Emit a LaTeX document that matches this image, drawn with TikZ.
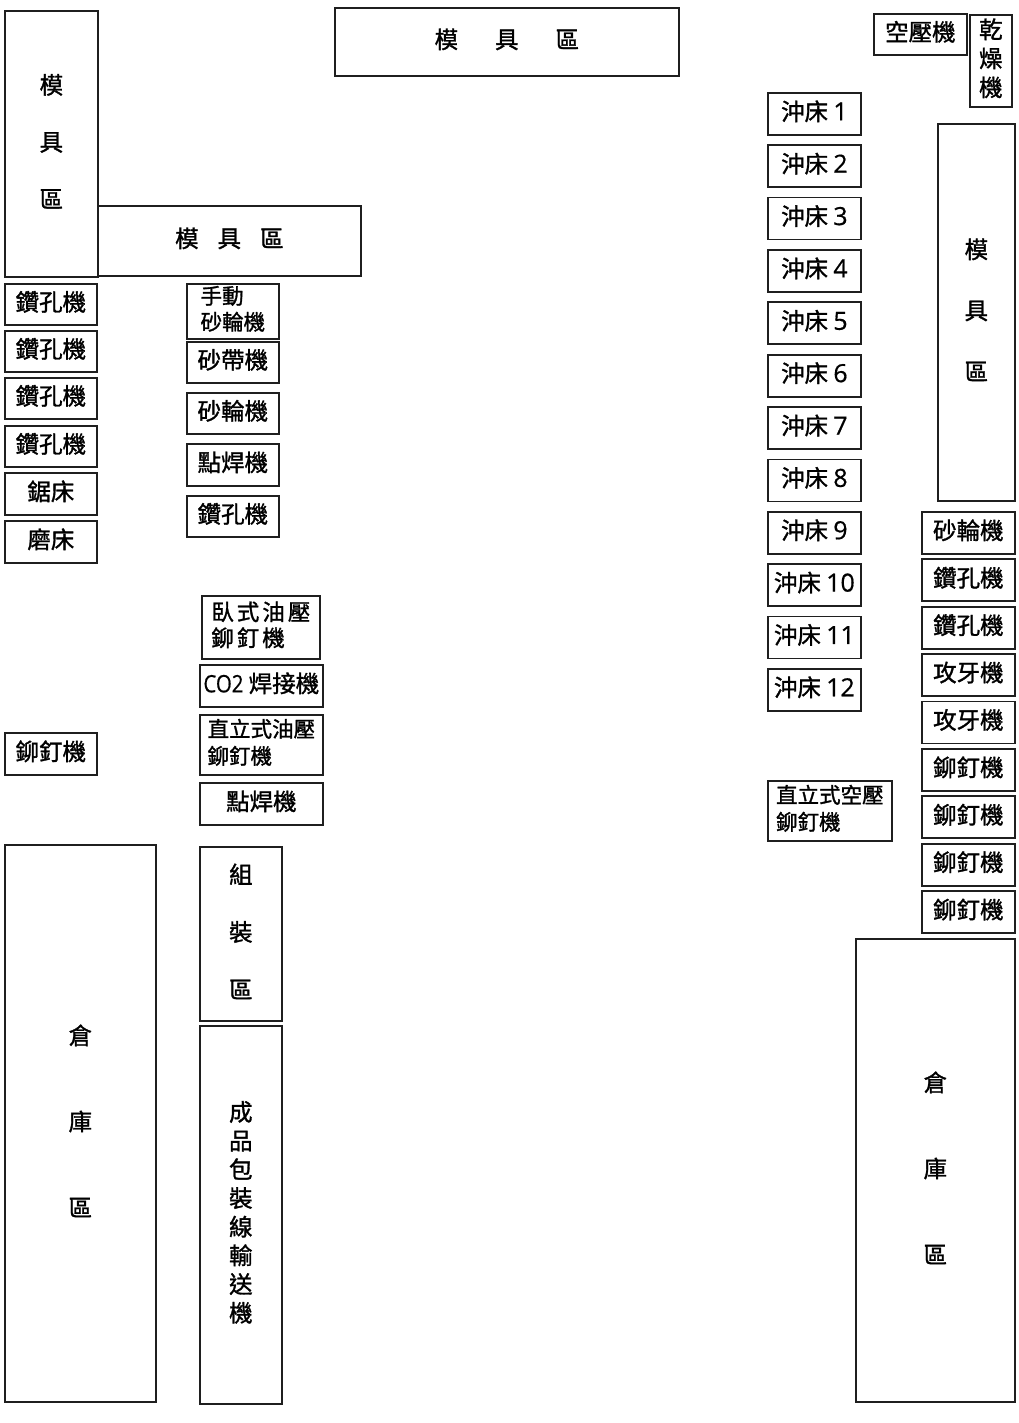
\documentclass[tikz,border=0pt]{standalone}
\usepackage{fontspec}
\newfontfamily\cjk[FakeBold=1.3]{Noto Sans CJK TC}
\newfontfamily\latfont[FakeBold=0.6]{Open Sans}
\newfontfamily\latnarrow[FakeBold=0.6,FakeStretch=0.85]{Open Sans}
\newcommand\latn[1]{{\latfont\fontsize{25}{26}\selectfont #1}}
\newcommand\latc[1]{{\latnarrow\fontsize{24}{26}\selectfont #1}}
\newcommand\bx[7][]{\node[box, minimum width=#5pt, minimum height=#6pt,
  label={[lab,#1]center:{#7}}] (#2) at (#3,#4) {};}
\newcommand\chgap{\hspace{3pt}}
\begin{document}
\begin{tikzpicture}[x=1pt,y=-1pt,
  box/.style={draw=black!88, line width=1.7pt, anchor=north west, inner sep=0pt},
  lab/.style={font=\cjk\fontsize{23.5}{26}\selectfont, align=center, inner sep=0pt, yshift=2.5pt},
  lft/.style={align=left},
  small/.style={font=\cjk\fontsize{21.5}{#1}\selectfont},
  vtext/.style={font=\cjk\fontsize{23.5}{#1}\selectfont}]
\useasboundingbox (0,0) rectangle (1018,1423);
% ---- left molds
\bx[vtext=57]{moldA}{4}{10}{93}{266}{模\\具\\區}
\bx{moldB}{97}{205}{263}{70}{模\hspace{19pt}具\hspace{19pt}區}
\bx{moldC}{334}{7}{344}{68}{模\hspace{37pt}具\hspace{37pt}區}
% ---- left column
\bx{dr1}{4}{283}{92}{41}{鑽孔機}
\bx{dr2}{4}{330}{92}{41}{鑽孔機}
\bx{dr3}{4}{377}{92}{41}{鑽孔機}
\bx{dr4}{4}{425}{92}{41}{鑽孔機}
\bx{saw}{4}{472}{92}{42}{鋸床}
\bx{grd}{4}{520}{92}{42}{磨床}
\bx{rivL}{4}{732}{92}{42}{鉚釘機}
\bx[vtext=86]{whL}{4}{844}{151}{557}{倉\\庫\\區}
% ---- second column
\bx[lft,small=26]{hand}{186}{283}{92}{55}{手動\\砂輪機}
\bx{belt}{186}{341}{92}{41}{砂帶機}
\bx{whl}{186}{392}{92}{41}{砂輪機}
\bx{spot1}{186}{443}{92}{42}{點焊機}
\bx{dr5}{186}{495}{92}{41}{鑽孔機}
\bx[lft,font=\cjk\fontsize{22.5}{26}\selectfont]{hriv}{201}{595}{118}{63}{臥\chgap 式\chgap 油\chgap 壓\\鉚\chgap 釘\chgap 機}
\bx{co2}{199}{664}{123}{42}{\latc{CO2} 焊接機}
\bx[lft,small=27]{vriv}{199}{714}{123}{60}{直立式油壓\\鉚釘機}
\bx{spot2}{199}{782}{123}{42}{點焊機}
\bx[vtext=57.5]{asm}{199}{846}{82}{174}{組\\裝\\區}
\bx[vtext=28.7]{pack}{199}{1025}{82}{378}{成\\品\\包\\裝\\線\\輸\\送\\機}
% ---- right side
\bx{air}{873}{13}{93}{41}{空壓機}
\bx[vtext=29]{dry}{969}{14}{42}{92}{乾\\燥\\機}
\foreach \i in {1,...,12}{
  \pgfmathsetmacro\yy{92+52.36*(\i-1)}
  \bx{p\i}{767}{\yy}{93}{42}{沖床 \latn{\i}}
}
\bx[vtext=61]{moldR}{937}{123}{77}{377}{模\\具\\區}
\foreach \t [count=\i] in {砂輪機,鑽孔機,鑽孔機,攻牙機,攻牙機,鉚釘機,鉚釘機,鉚釘機,鉚釘機}{
  \pgfmathsetmacro\yy{511+47.4*(\i-1)}
  \bx{r\i}{921}{\yy}{93}{42}{\t}
}
\bx[lft,small=27]{aRiv}{767}{780}{124}{60}{直立式空壓\\鉚釘機}
\bx[vtext=86]{whR}{855}{938}{159}{463}{倉\\庫\\區}
\end{tikzpicture}
\end{document}
